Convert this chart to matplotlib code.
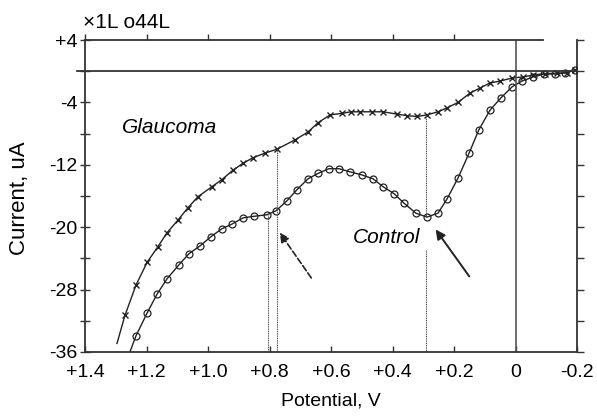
import matplotlib
matplotlib.use("Agg")
import matplotlib.pyplot as plt
import numpy as np

plt.rcParams['font.family'] = ['Liberation Sans', 'DejaVu Sans']

# Glaucoma (x markers)
glau_v = [1.296, 1.270, 1.234, 1.198, 1.163, 1.133, 1.098, 1.065, 1.033, 0.987,
          0.955, 0.919, 0.886, 0.854, 0.815, 0.776, 0.717, 0.675, 0.642, 0.603,
          0.564, 0.535, 0.506, 0.467, 0.431, 0.385, 0.353, 0.320, 0.288, 0.252,
          0.223, 0.187, 0.148, 0.115, 0.083, 0.050, 0.011, -0.024, -0.057, -0.096,
          -0.135, -0.167, -0.193]
glau_i = [-34.9, -31.3, -27.4, -24.5, -22.5, -20.7, -19.1, -17.5, -16.1, -14.8,
          -13.9, -12.7, -11.8, -11.1, -10.5, -10.0, -8.8, -7.8, -6.6, -5.6,
          -5.4, -5.2, -5.2, -5.2, -5.2, -5.5, -5.7, -5.8, -5.6, -5.2,
          -4.7, -4.0, -2.8, -2.15, -1.5, -1.26, -0.87, -0.74, -0.49, -0.3,
          -0.25, -0.2, 0.2]

# Control (o markers)
ctrl_v = [1.254, 1.234, 1.198, 1.166, 1.133, 1.094, 1.062, 1.026, 0.990, 0.955,
          0.922, 0.886, 0.850, 0.808, 0.779, 0.743, 0.711, 0.675, 0.642, 0.607,
          0.574, 0.538, 0.499, 0.463, 0.431, 0.395, 0.363, 0.324, 0.288, 0.252,
          0.223, 0.187, 0.151, 0.119, 0.083, 0.047, 0.011, -0.021, -0.057, -0.093,
          -0.128, -0.161, -0.193]
ctrl_i = [-36.0, -33.9, -31.0, -28.6, -26.6, -24.8, -23.4, -22.4, -21.2, -20.2,
          -19.6, -18.8, -18.6, -18.4, -17.9, -16.6, -15.2, -13.8, -13.1, -12.5,
          -12.5, -12.9, -13.3, -13.8, -14.8, -15.7, -16.9, -18.2, -18.7, -18.2,
          -16.4, -13.7, -10.5, -7.5, -5.0, -3.4, -2.0, -1.26, -0.74, -0.36,
          -0.36, -0.23, 0.15]

x_ticks = [1.4, 1.2, 1.0, 0.8, 0.6, 0.4, 0.2, 0.0, -0.2]
x_labels = ['+1.4', '+1.2', '+1.0', '+0.8', '+0.6', '+0.4', '+0.2', '0', '-0.2']
y_ticks = [4, -4, -12, -20, -28, -36]
y_labels = ['+4', '-4', '-12', '-20', '-28', '-36']
y_minor = [0, -8, -16, -24, -32]

# guide lines: (x, y_from, y_to)
guides = [(0.805, -18.4, -36), (0.776, -10.0, -36), (0.290, -5.6, -18.7), (0.290, -22.9, -36)]

fig = plt.figure(figsize=(5.97, 4.17), dpi=100)
ax = fig.add_axes([0.1424, 0.1559, 0.9665 - 0.1424, 0.904 - 0.1559])
ax.set_xlim(1.4, -0.2)
ax.set_ylim(-36, 4)

dark = '#333333'
for s in ['left', 'bottom']:
    ax.spines[s].set_color(dark)
    ax.spines[s].set_linewidth(1.3)
ax.spines['top'].set_visible(False)
ax.spines['right'].set_visible(False)

ax.plot(glau_v, glau_i, color='#222222', lw=1.0, marker='x', ms=5, mew=1.0,
        markevery=list(range(1, len(glau_v))))
ax.plot(ctrl_v, ctrl_i, color='#222222', lw=1.0, marker='o', ms=5, mfc='none',
        mew=0.9, markevery=list(range(1, len(ctrl_v))))

for gx, y0, y1 in guides:
    ax.plot([gx, gx], [y0, y1], color='#555555', lw=0.8, ls=(0, (1, 0.6)))

ax.axvline(0, color='#555555', lw=1.2)
ax.plot([1.425, -0.2], [0, 0], color=dark, lw=1.3, clip_on=False)
ax.plot([1.4, -0.09], [4, 4], color=dark, lw=1.3, clip_on=False)

ax.set_xticks(x_ticks)
ax.set_xticklabels(x_labels, fontsize=14)
ax.set_yticks(y_ticks)
ax.set_yticklabels(y_labels, fontsize=14)
ax.set_yticks(y_minor, minor=True)
ax.tick_params(axis='x', direction='in', length=4, width=1.0, color=dark, pad=9)
ax.tick_params(axis='y', which='both', direction='inout', length=7, width=1.0, color=dark, pad=2)

sec_top = ax.secondary_xaxis('top')
sec_top.set_xticks([1.4, 1.2, 1.0, 0.8, 0.6, 0.4, 0.2])
sec_top.set_xticklabels([])
sec_top.spines['top'].set_visible(False)
sec_top.tick_params(direction='out', length=4, width=1.0, color=dark)

sec_r = ax.secondary_yaxis('right')
sec_r.set_yticks(list(range(4, -37, -4)))
sec_r.set_yticklabels([])
sec_r.spines['right'].set_color(dark)
sec_r.spines['right'].set_linewidth(1.3)
sec_r.tick_params(direction='out', length=5, width=1.0, color=dark)

ax.set_xlabel('Potential, V', fontsize=14, labelpad=8)
fig.text(20 / 597, 1 - 198 / 417, 'Current, uA', fontsize=16, rotation=90,
         ha='center', va='center')

ax.text(1.124, -7.2, 'Glaucoma', fontsize=15, style='italic', ha='center', va='center')
ax.text(0.421, -21.3, 'Control', fontsize=15, style='italic', ha='center', va='center')

ax.annotate('', xy=(0.772, -20.4), xytext=(0.659, -26.8),
            arrowprops=dict(arrowstyle='-|>', color='#222222', lw=1.2, ls='--',
                            mutation_scale=14))
ax.annotate('', xy=(0.265, -20.0), xytext=(0.145, -26.6),
            arrowprops=dict(arrowstyle='-|>', color='#222222', lw=1.4,
                            mutation_scale=14))

fig.text(83 / 597, 1 - 23 / 417, '×1L o44L', fontsize=15, ha='left', va='center')

fig.savefig('out.png', dpi=100)
